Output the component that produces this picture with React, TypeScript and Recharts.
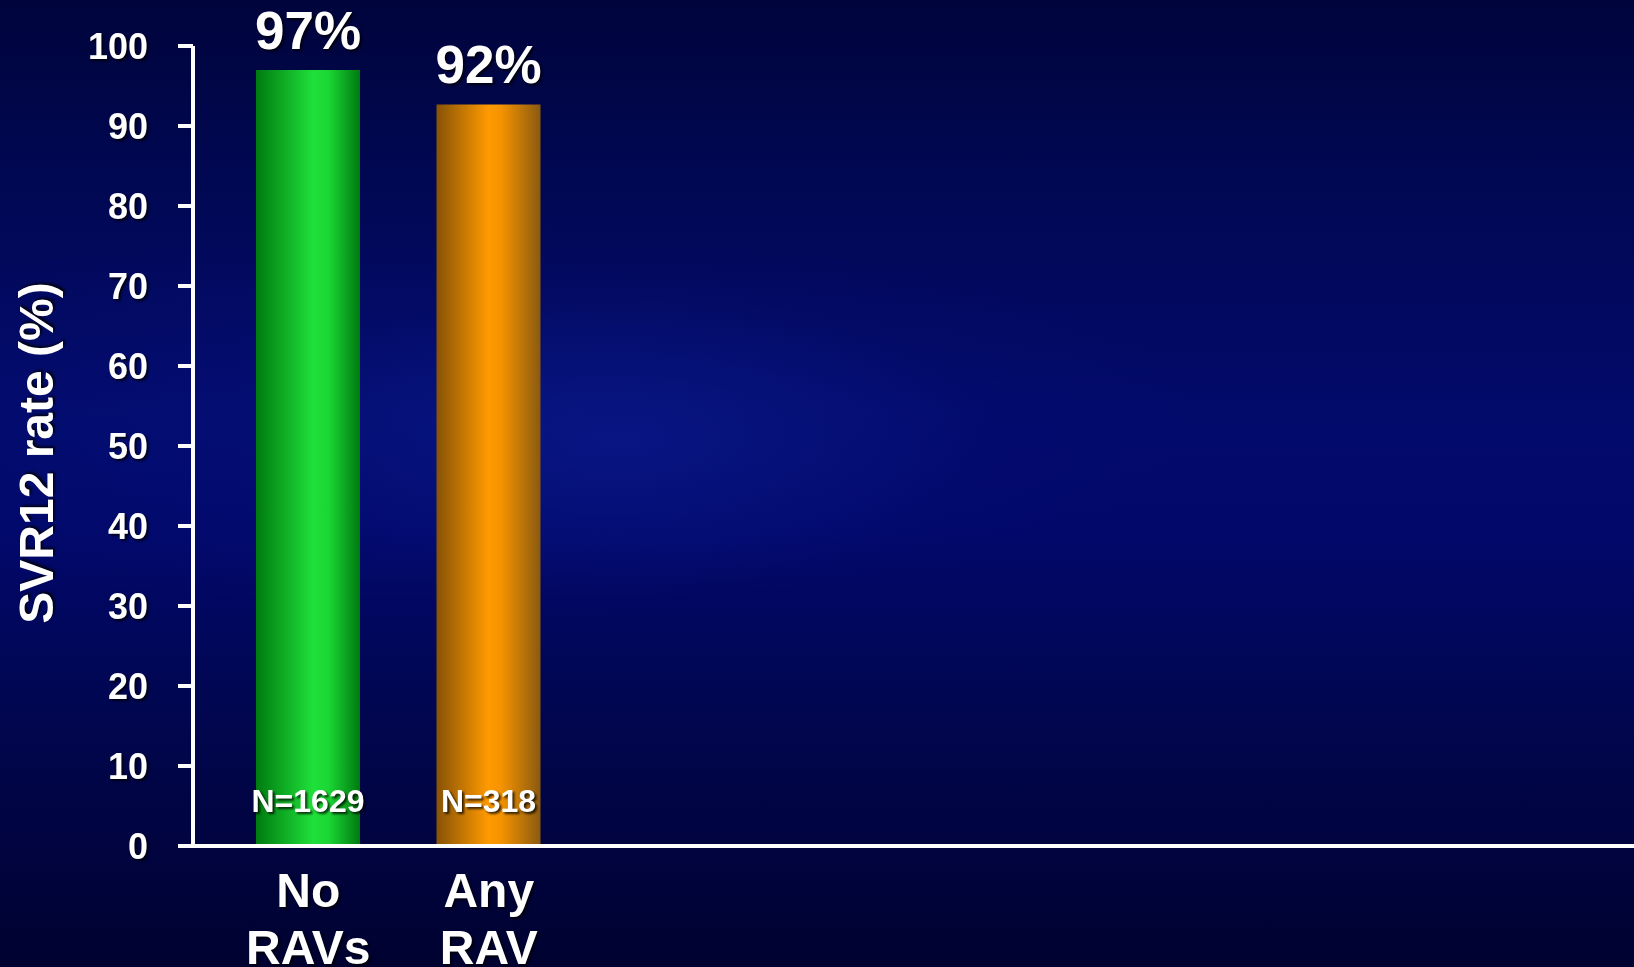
import { Bar, BarChart, Cell, LabelList, XAxis, YAxis } from "recharts";

const categories = ["No RAVs", "Any RAV"];
const svrRates = [97, 92.7];
const rateLabels = ["97%", "92%"];
const sampleLabels = ["N=1629", "N=318"];
const yTicks = [0, 10, 20, 30, 40, 50, 60, 70, 80, 90, 100];
const barGradients = ["gradNoRav", "gradAnyRav"];

const data = categories.map((category, i) => ({
  category,
  rate: svrRates[i],
  rateLabel: rateLabels[i],
  sample: sampleLabels[i],
}));

const FONT = '"Liberation Sans", Arial, Helvetica, sans-serif';
const SHADOW = "drop-shadow(2px 2px 1px rgba(0,0,0,0.75))";

function CategoryTick(props: any) {
  const { x, y, payload } = props;
  const lines = String(payload.value).split(" ");
  return (
    <text
      x={x}
      y={y}
      textAnchor="middle"
      fill="#ffffff"
      fontSize={48}
      fontWeight={700}
      fontFamily={FONT}
      style={{ filter: SHADOW }}
    >
      {lines.map((line, i) => (
        <tspan key={line} x={x} dy={i === 0 ? 53 : 57}>
          {line}
        </tspan>
      ))}
    </text>
  );
}

function RateLabel(props: any) {
  const { x, y, width, index } = props;
  return (
    <text
      x={x + width / 2}
      y={y - 21}
      textAnchor="middle"
      fill="#ffffff"
      fontSize={53}
      fontWeight={700}
      fontFamily={FONT}
      style={{ filter: SHADOW }}
    >
      {rateLabels[index]}
    </text>
  );
}

function SampleLabel(props: any) {
  const { x, y, width, height, index } = props;
  return (
    <text
      x={x + width / 2}
      y={y + height - 34}
      textAnchor="middle"
      fill="#ffffff"
      fontSize={32}
      fontWeight={700}
      fontFamily={FONT}
      style={{ filter: SHADOW }}
    >
      {sampleLabels[index]}
    </text>
  );
}

function AxisTitle(props: any) {
  const { viewBox } = props;
  const cx = viewBox.x + 36;
  const cy = viewBox.y + viewBox.height / 2 + 7;
  return (
    <text
      x={cx}
      y={cy}
      transform={`rotate(-90, ${cx}, ${cy})`}
      textAnchor="middle"
      dominantBaseline="central"
      fill="#ffffff"
      fontSize={48}
      fontWeight={700}
      fontFamily={FONT}
      style={{ filter: SHADOW }}
    >
      SVR12 rate (%)
    </text>
  );
}

export default function App() {
  return (
    <div
      style={{
        position: "fixed",
        left: 0,
        top: 0,
        width: 1634,
        height: 967,
        overflow: "hidden",
        background:
          "radial-gradient(ellipse 520px 220px at 620px 440px, rgba(20,40,170,0.3), transparent 70%), radial-gradient(ellipse 1000px 260px at 450px 420px, rgba(10,25,140,0.3), transparent 75%), linear-gradient(to bottom, #00043c 0%, #010856 22%, #020a6a 42%, #01086a 55%, #01064e 75%, #000230 100%)",
      }}
    >
      <BarChart
        width={1634}
        height={967}
        data={data}
        margin={{ top: 46, right: 0, bottom: 0, left: 0 }}
      >
        <defs>
          <linearGradient id="gradNoRav" x1="0" y1="0" x2="1" y2="0">
            <stop offset="0%" stopColor="#007a10" />
            <stop offset="55%" stopColor="#1fe03a" />
            <stop offset="70%" stopColor="#1bd634" />
            <stop offset="100%" stopColor="#007a10" />
          </linearGradient>
          <linearGradient id="gradAnyRav" x1="0" y1="0" x2="1" y2="0">
            <stop offset="0%" stopColor="#875206" />
            <stop offset="50%" stopColor="#ff9a00" />
            <stop offset="62%" stopColor="#f59300" />
            <stop offset="100%" stopColor="#8a5a10" />
          </linearGradient>
        </defs>
        <XAxis
          dataKey="category"
          height={121}
          padding={{ left: 25, right: 1055 }}
          axisLine={{ stroke: "#ffffff", strokeWidth: 4 }}
          tickLine={false}
          interval={0}
          tick={<CategoryTick />}
        />
        <YAxis
          width={193}
          domain={[0, 100]}
          ticks={yTicks}
          interval={0}
          axisLine={{ stroke: "#ffffff", strokeWidth: 4 }}
          tickLine={{ stroke: "#ffffff", strokeWidth: 4 }}
          tickSize={15}
          tickMargin={30}
          tick={{
            fill: "#ffffff",
            fontSize: 36,
            fontWeight: 700,
            fontFamily: FONT,
            style: { filter: SHADOW },
          }}
          label={<AxisTitle />}
        />
        <Bar dataKey="rate" barSize={104} isAnimationActive={false}>
          {data.map((d, i) => (
            <Cell key={d.category} fill={`url(#${barGradients[i]})`} />
          ))}
          <LabelList dataKey="rateLabel" content={<RateLabel />} />
          <LabelList dataKey="sample" content={<SampleLabel />} />
        </Bar>
      </BarChart>
    </div>
  );
}
